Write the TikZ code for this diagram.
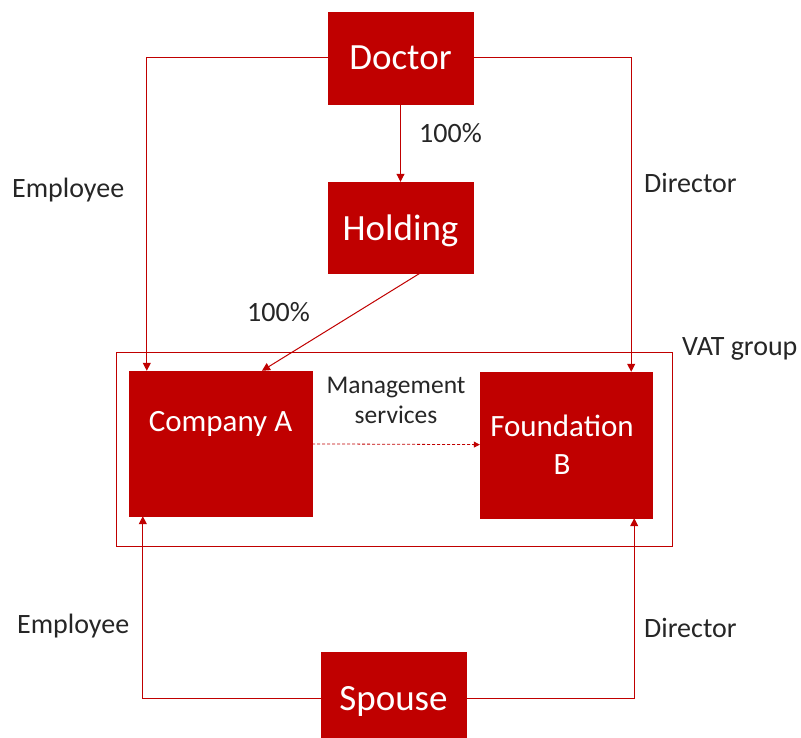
\documentclass[tikz,border=0pt]{standalone}
\usepackage{fontspec}
\setmainfont{Carlito}
\usetikzlibrary{arrows.meta}
\definecolor{boxred}{HTML}{C00000}
\definecolor{labelgray}{HTML}{262626}

\begin{document}
\begin{tikzpicture}[x=1pt,y=-1pt,
  box/.style={fill=boxred,draw=boxred,text=white,inner sep=0pt,text depth=0pt},
  bigtext/.style={font=\fontsize{37}{40}\selectfont},
  boxtext/.style={text=white,inner sep=0pt,font=\fontsize{31}{38}\selectfont},
  lbl/.style={text=labelgray,inner sep=0pt,anchor=base west,font=\fontsize{28}{30}\selectfont},
  arr/.style={draw=boxred,line width=1pt,-{Triangle[width=8pt,length=8pt]}},
  dasharr/.style={draw=boxred,line width=0.8pt,densely dashed,-{Triangle[width=6pt,length=6pt]}}]
  \useasboundingbox (0,0) rectangle (801,738);
  \clip (0,0) rectangle (801,738);
  \node[box,bigtext,minimum width=145pt,minimum height=92pt] (doctor) at (400.5,58) {Doctor};
  \node[box,bigtext,minimum width=145pt,minimum height=91pt] (holding) at (400.5,227.5) {Holding};
  \node[box,minimum width=183pt,minimum height=145pt] (compA) at (220.5,443.5) {};
  \node[box,minimum width=172pt,minimum height=146pt] (foundB) at (566,445) {};
  \node[box,bigtext,minimum width=145pt,minimum height=92pt] (spouse) at (393.5,698) {Spouse};
  \node[boxtext,text depth=0pt] (compAtext) at ([yshift=22.5pt]compA.center) {Company A};
  \node[boxtext,align=center] (foundBtext) at ([xshift=-4pt]foundB.center) {Foundation\\B};
  \draw[boxred,line width=1pt] (116,352.5) rectangle (672.5,546);
  \node[lbl] (vatlbl) at (682,355) {VAT group};
  \node[text=labelgray,inner sep=0pt,align=center,font=\fontsize{25.5}{30}\selectfont] (mgmtlbl) at (396,400.5) {Management\\services};
  \draw[arr] (doctor) -| ([xshift=18pt]compA.north west);
  \draw[arr] (doctor) -| ([xshift=-21pt]foundB.north east);
  \draw[arr] (doctor) -- (holding);
  \draw[arr] ([xshift=19.5pt]holding.south) -- ([xshift=41.5pt]compA.north);
  \draw[dasharr] (compA) -- (foundB);
  \draw[arr] (spouse) -| ([xshift=14pt]compA.south west);
  \draw[arr] (spouse) -| ([xshift=-18pt]foundB.south east);
  \node[lbl] (pcttop) at (419,142.5) {100\%};
  \node[lbl] (pctmid) at (247,322) {100\%};
  \node[lbl] (empltop) at (12,198) {Employee};
  \node[lbl] (dirtop) at (644,193) {Director};
  \node[lbl] (emplbot) at (17,633) {Employee};
  \node[lbl] (dirbot) at (644,637) {Director};
\end{tikzpicture}
\end{document}
